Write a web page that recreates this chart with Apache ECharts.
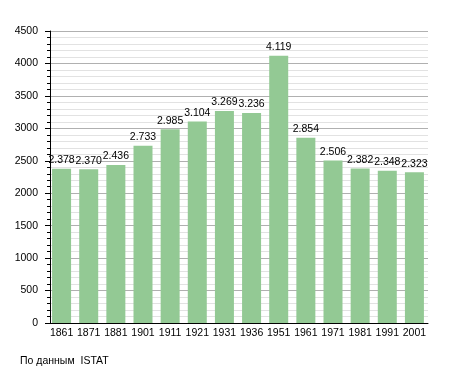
<!DOCTYPE html>
<html>
<head>
<meta charset="utf-8">
<script src="https://cdn.jsdelivr.net/npm/echarts@6/dist/echarts.min.js"></script>
<style>
html,body{margin:0;padding:0;background:#fff;}
#chart{width:455px;height:373px;}
</style>
</head>
<body>
<div id="chart"></div>
<script>
const years = ['1861','1871','1881','1901','1911','1921','1931','1936','1951','1961','1971','1981','1991','2001'];
const population = [2378, 2370, 2436, 2733, 2985, 3104, 3269, 3236, 4119, 2854, 2506, 2382, 2348, 2323];
const yTicks = [0, 500, 1000, 1500, 2000, 2500, 3000, 3500, 4000, 4500];
const sourceText = 'По данным  ISTAT';

const FONT = '"Liberation Sans", Arial, sans-serif';
const chart = echarts.init(document.getElementById('chart'), null, {renderer: 'canvas'});
function fmt(v){
  const s = String(v);
  return s.length > 3 ? s.slice(0, s.length-3) + '.' + s.slice(s.length-3) : s;
}
chart.setOption({
  animation: false,
  backgroundColor: '#fff',
  grid: {left: 48, right: 27, top: 31, bottom: 50, containLabel: false},
  graphic: [{
    type: 'text', left: 20, top: 356,
    style: {text: sourceText, fontFamily: FONT, fontSize: 10.5, fill: '#000'}
  }],
  xAxis: {
    type: 'category',
    data: years,
    boundaryGap: true,
    axisLine: {show: true, lineStyle: {color: '#000', width: 1}},
    axisTick: {show: false},
    axisLabel: {color: '#000', fontFamily: FONT, fontSize: 10.5, margin: 5, interval: 0},
    splitLine: {show: false}
  },
  yAxis: {
    type: 'value',
    min: yTicks[0],
    max: yTicks[yTicks.length-1],
    interval: 500,
    offset: -2,
    axisLine: {show: true, lineStyle: {color: '#000', width: 1}},
    axisTick: {show: true, length: 5, lineStyle: {color: '#000'}},
    minorTick: {show: true, splitNumber: 5, length: 3, lineStyle: {color: '#000'}},
    axisLabel: {color: '#000', fontFamily: FONT, fontSize: 10.5, margin: 12, formatter: v => String(v)},
    splitLine: {show: true, lineStyle: {color: '#b0b0b0', width: 1}},
    minorSplitLine: {show: true, lineStyle: {color: '#e2e2e2', width: 1}}
  },
  series: [{
    type: 'bar',
    data: population,
    barWidth: 19,
    itemStyle: {color: '#93c994'},
    label: {
      show: true, position: 'top', distance: 3,
      color: '#000', fontFamily: FONT, fontSize: 10.5,
      formatter: p => fmt(p.value)
    }
  }]
});
</script>
</body>
</html>
